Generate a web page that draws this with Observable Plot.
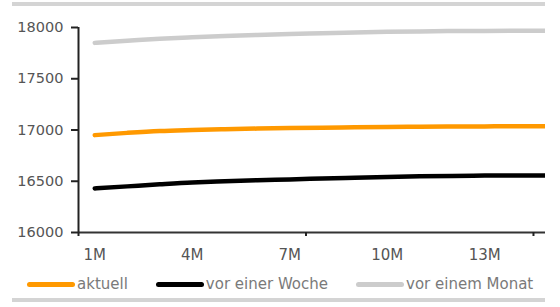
<!DOCTYPE html>
<html>
<head>
<meta charset="utf-8">
<script src="https://cdn.jsdelivr.net/npm/d3@7"></script>
<script src="https://cdn.jsdelivr.net/npm/@observablehq/plot@0.6"></script>
<style>
  html, body { margin: 0; padding: 0; background: #fff; }
  #wrap { position: relative; width: 560px; height: 307px; overflow: hidden; font-family: "DejaVu Sans", sans-serif; }
  .bar { position: absolute; left: 12px; width: 533px; height: 4px; background: #d4d4d4; }
  #chart { position: absolute; left: 0; top: 0; }
  #legend { position: absolute; left: 27px; top: 275px; display: flex; gap: 28px; align-items: center; font-size: 15px; color: #7a7a7a; white-space: nowrap; }
  .item { display: flex; align-items: center; }
  .sw { width: 48px; height: 5px; border-radius: 3px; margin-right: 2px; }
</style>
</head>
<body>
<div id="wrap">
  <div class="bar" style="top:2px"></div>
  <div id="chart"></div>
  <div id="legend"></div>
  <div class="bar" style="top:298px"></div>
</div>
<script>
const months = [1,2,3,4,5,6,7,8,9,10,11,12,13,14,15];
const seriesNames = ["aktuell", "vor einer Woche", "vor einem Monat"];
const seriesColors = ["#ff9900", "#000000", "#cccccc"];
const aktuell = [16950,16972,16990,17000,17008,17014,17019,17023,17027,17030,17032,17034,17035,17036,17036];
const vorWoche = [16430,16450,16470,16488,16500,16510,16518,16527,16535,16542,16548,16552,16555,16556,16557];
const vorMonat = [17850,17870,17890,17905,17918,17928,17937,17945,17952,17958,17962,17965,17967,17968,17968];
const xLabelTicks = [1,4,7,10,13];
const xMarkTicks = [0.5,7.5,14.5];
const yTicks = [16000,16500,17000,17500,18000];

const seriesValues = [aktuell, vorWoche, vorMonat];
const data = [];
seriesNames.forEach((s, i) => months.forEach((m, j) => data.push({series: s, month: m, value: seriesValues[i][j]})));
const order = [2, 0, 1]; // draw order: gray, orange, black

const plot = Plot.plot({
  width: 560,
  height: 270,
  marginTop: 27,
  marginBottom: 38,
  marginLeft: 78,
  marginRight: 15,
  style: {fontFamily: "DejaVu Sans, sans-serif", fontSize: "14.5px", color: "#555", background: "transparent"},
  x: {type: "linear", domain: [0.5, 14.87]},
  y: {domain: [16000, 18000]},
  marks: [
    ...order.map(i => Plot.line(data.filter(d => d.series === seriesNames[i]), {
      x: "month", y: "value", stroke: seriesColors[i], strokeWidth: 4.5, curve: "monotone-x", clip: true
    })),
    Plot.ruleY([16000], {stroke: "#333", strokeWidth: 2}),
    Plot.ruleX([0.5], {stroke: "#222", strokeWidth: 2}),
    Plot.axisY({ticks: yTicks, tickSize: 7, tickPadding: 8, tickFormat: d => String(d), stroke: "#222", strokeWidth: 2, fill: "#555", label: null}),
    Plot.axisX({ticks: xMarkTicks, tickSize: 4, tickFormat: () => "", stroke: "#222", strokeWidth: 2, label: null}),
    Plot.axisX({ticks: xLabelTicks, tickSize: 0, tickPadding: 17, tickFormat: d => d + "M", fill: "#555", fontSize: 15, label: null})
  ]
});
document.getElementById("chart").appendChild(plot);

const legend = document.getElementById("legend");
seriesNames.forEach((s, i) => {
  const item = document.createElement("div");
  item.className = "item";
  const sw = document.createElement("div");
  sw.className = "sw";
  sw.style.background = seriesColors[i];
  const lab = document.createElement("span");
  lab.textContent = s;
  item.appendChild(sw);
  item.appendChild(lab);
  legend.appendChild(item);
});
</script>
</body>
</html>
